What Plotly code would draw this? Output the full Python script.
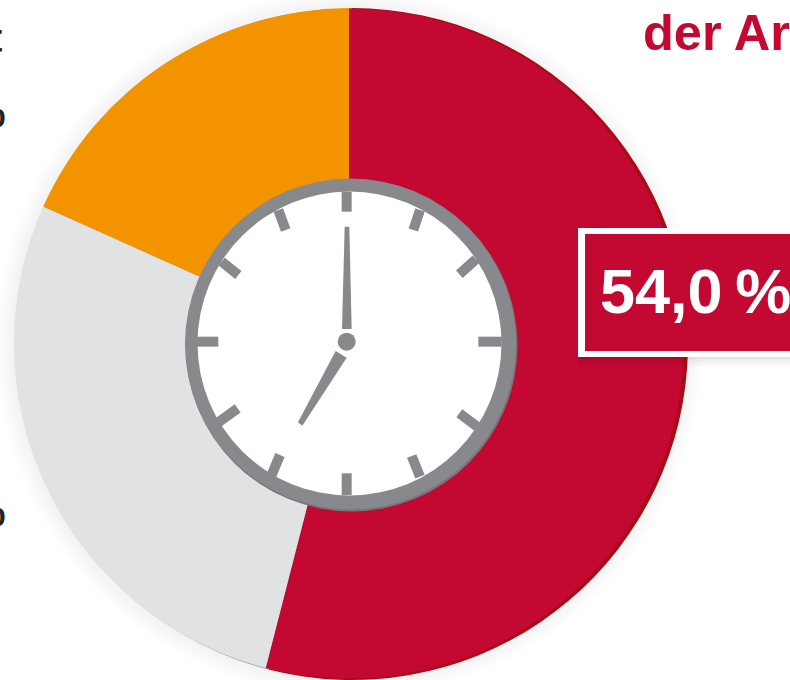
import plotly.graph_objects as go

categories = ["Rot", "Grau", "Orange"]
shares = [54.0, 27.7, 18.3]
colors = ["#C30832", "#E1E2E4", "#F49300"]
rim_colors = ["#A90C14", "#97989A", "#F49300"]
label_text = "54,0\u2009%"
title_text = "der Ar"

W, H = 790, 680
RED, RING, RING_DARK = "#C30832", "#88898C", "#76777A"


def px(x):
    return x / W


def py(y):
    return 1 - y / H


def zoom_xy(x, y):
    return 170 + x / 3, 165 + y / 3


def circle(cx, cy, r, fill, layer="above"):
    return dict(type="circle", xref="paper", yref="paper", layer=layer, line_width=0, fillcolor=fill,
                x0=px(cx - r), x1=px(cx + r), y0=py(cy + r), y1=py(cy - r))


def rect(x0, y0, x1, y1, fill, layer="above"):
    return dict(type="rect", xref="paper", yref="paper", layer=layer, line_width=0, fillcolor=fill,
                x0=px(x0), x1=px(x1), y0=py(y1), y1=py(y0))


def poly(points, fill):
    parts = []
    for i, (x, y) in enumerate(points):
        zx, zy = zoom_xy(x, y)
        parts.append(f"{'M' if i == 0 else 'L'} {px(zx):.5f} {py(zy):.5f}")
    return dict(type="path", xref="paper", yref="paper", layer="above", line_width=0, fillcolor=fill,
                path=" ".join(parts) + " Z")


def tick(x0, y0, x1, y1):
    a, b = zoom_xy(x0, y0), zoom_xy(x1, y1)
    return dict(type="line", xref="paper", yref="paper", layer="above", line=dict(color=RING, width=10),
                x0=px(a[0]), y0=py(a[1]), x1=px(b[0]), y1=py(b[1]))


fig = go.Figure()
# rim: same shares, shifted a little behind the main ring
fig.add_trace(go.Pie(values=shares, labels=categories, sort=False, direction="clockwise", rotation=0,
                     marker=dict(colors=rim_colors, line_width=0), textinfo="none", hoverinfo="skip",
                     showlegend=False, domain=dict(x=[px(16), px(688)], y=[0, 672 / H])))
fig.add_trace(go.Pie(values=shares, labels=categories, sort=False, direction="clockwise", rotation=0, hole=0.4,
                     marker=dict(colors=colors, line_width=0), textinfo="none",
                     showlegend=False, domain=dict(x=[px(14), px(684)], y=[py(678.5), py(8.5)])))

shapes = []
for extra in (18, 15, 12, 9, 6, 3):
    shapes.append(circle(349, 344, 335 + extra, "rgba(0,0,0,0.008)", layer="below"))

# clock
shapes += [circle(351.5, 345.5, 166, RING_DARK), circle(350.5, 344, 165.5, RING), circle(349.5, 343.5, 152, "#FFFFFF")]
for t in [(530, 80, 530, 140), (750, 135, 730, 195), (918, 283, 868, 328), (995, 530, 925, 530),
          (922, 785, 868, 745), (750, 935, 725, 873), (530, 990, 530, 925), (305, 930, 330, 870),
          (145, 772, 203, 730), (80, 530, 145, 530), (155, 290, 205, 330), (325, 135, 347, 195)]:
    shapes.append(tick(*t))
shapes.append(poly([(524, 185), (538, 185), (545, 492), (516, 492)], RING))
shapes.append(poly([(497, 558), (530, 578), (397, 782), (384, 772)], RING))
shapes.append(circle(*zoom_xy(530, 530), 9, RING))

# label box
for i, a in enumerate((0.10, 0.07, 0.05, 0.03, 0.015)):
    shapes.append(rect(578, 357 + i * 2, 790, 359 + i * 2, f"rgba(0,0,0,{a})"))
shapes.append(rect(578, 228, 792, 357, "#FFFFFF"))
shapes.append(rect(585, 234, 792, 351, RED))

annotations = [
    dict(text=f"<b>{title_text}</b>", x=px(642), y=py(62), xanchor="left", yanchor="bottom",
         font=dict(color=RED, size=50.5)),
    dict(text=f"<b>{label_text}</b>", x=px(599), y=py(291), xanchor="left", yanchor="middle",
         font=dict(color="#FFFFFF", size=63)),
    dict(text="<b>t</b>", x=px(3), y=py(38), xanchor="right", yanchor="middle", font=dict(color="#222222", size=40)),
    dict(text="<b>%</b>", x=px(7), y=py(113), xanchor="right", yanchor="middle", font=dict(color="#222222", size=40)),
    dict(text="<b>%</b>", x=px(7), y=py(512), xanchor="right", yanchor="middle", font=dict(color="#222222", size=40)),
]
for a in annotations:
    a.update(xref="paper", yref="paper", showarrow=False, borderpad=0)

fig.update_layout(width=W, height=H, margin=dict(l=0, r=0, t=0, b=0), paper_bgcolor="#FFFFFF",
                  font=dict(family="Liberation Sans"), shapes=shapes, annotations=annotations, showlegend=False)
fig.write_html("out.html", config=dict(displayModeBar=False),
               post_script="document.body.style.margin='0';document.body.style.overflow='hidden';")
